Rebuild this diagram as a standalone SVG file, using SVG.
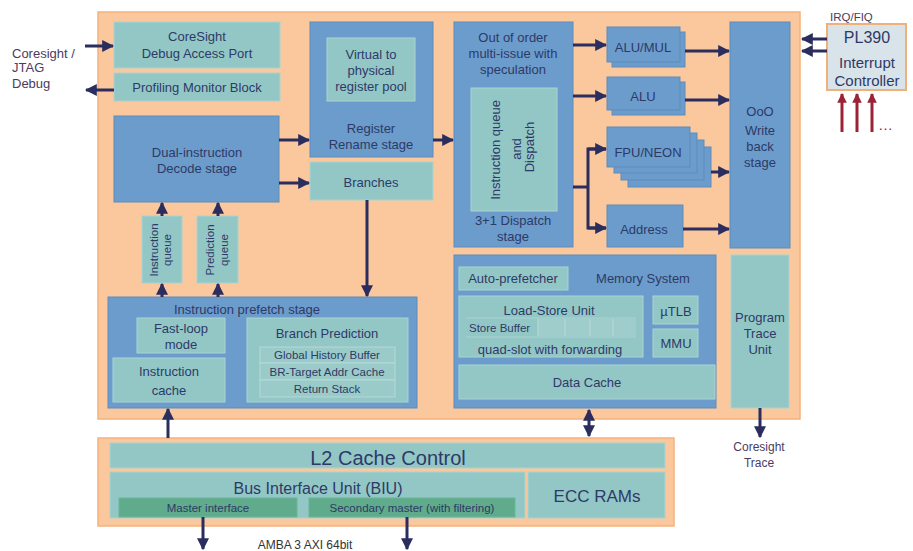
<svg xmlns="http://www.w3.org/2000/svg" width="913" height="551" viewBox="0 0 913 551">
<defs>
<marker id="ah" viewBox="0 0 10 10" refX="9" refY="5" markerWidth="4" markerHeight="4" orient="auto-start-reverse" markerUnits="strokeWidth">
<path d="M0,0 L10,5 L0,10 z" fill="#2B2D5E"/>
</marker>
<marker id="ahr" viewBox="0 0 10 10" refX="9" refY="5" markerWidth="3.2" markerHeight="3.2" orient="auto" markerUnits="strokeWidth">
<path d="M0,0 L10,5 L0,10 z" fill="#9B2335"/>
</marker>
<style>
text{font-family:"Liberation Sans",Arial,sans-serif;fill:#2E3A66;font-size:13px;text-anchor:middle}
.blue{fill:#6B9CCC;stroke:#5C8CBC;stroke-width:1}
.teal{fill:#93C7C6;stroke:#A8D3D1;stroke-width:1}
.green{fill:#5FAB8B;stroke:#6DB696;stroke-width:1}
.orange{fill:#FAC89C;stroke:#F3B27C;stroke-width:1.5}
.ln{stroke:#2B2D5E;stroke-width:3;fill:none}
.arr{stroke:#2B2D5E;stroke-width:3;fill:none;marker-end:url(#ah)}
.lbl{fill:#4B3B63;text-anchor:start}
.sm{font-size:11.5px}
</style>
</defs>

<rect width="913" height="551" fill="#ffffff"/>

<g id="core">
<rect class="orange" x="98" y="12" width="702" height="407"/>
</g>

<g id="coresight-dap">
<rect class="teal" x="114" y="22" width="166" height="46"/>
<text x="197" y="41">CoreSight</text>
<text x="197" y="58">Debug Access Port</text>
</g>
<g id="profiling">
<rect class="teal" x="114" y="73" width="166" height="28"/>
<text x="197" y="92">Profiling Monitor Block</text>
</g>
<g id="decode">
<rect class="blue" x="114" y="116" width="165" height="86"/>
<text x="197" y="157">Dual-instruction</text>
<text x="197" y="173">Decode stage</text>
</g>
<g id="rename">
<rect class="blue" x="310" y="22" width="123" height="135"/>
<rect class="teal" x="327" y="38" width="88" height="63"/>
<text x="371" y="59">Virtual to</text>
<text x="371" y="75">physical</text>
<text x="371" y="91">register pool</text>
<text x="371" y="133">Register</text>
<text x="371" y="149">Rename stage</text>
</g>
<g id="branches">
<rect class="teal" x="310" y="162" width="123" height="38"/>
<text x="371" y="187">Branches</text>
</g>
<g id="ooo">
<rect class="blue" x="454" y="22" width="119" height="225"/>
<text x="513" y="42">Out of order</text>
<text x="513" y="58">multi-issue with</text>
<text x="513" y="74">speculation</text>
<rect class="teal" x="471" y="88" width="86" height="123"/>
<text transform="translate(500,150) rotate(-90)">Instruction queue</text>
<text transform="translate(521,149) rotate(-90)">and</text>
<text transform="translate(534,147) rotate(-90)">Dispatch</text>
<text x="513" y="225">3+1 Dispatch</text>
<text x="513" y="241">stage</text>
</g>
<g id="alumul">
<rect class="blue" x="612" y="32" width="73" height="35"/>
<rect class="blue" x="607" y="27" width="73" height="35"/>
<text x="643" y="52">ALU/MUL</text>
</g>
<g id="alu">
<rect class="blue" x="612" y="82" width="73" height="33"/>
<rect class="blue" x="607" y="77" width="73" height="33"/>
<text x="643" y="101">ALU</text>
</g>
<g id="fpu">
<rect class="blue" x="628" y="147" width="83" height="40"/>
<rect class="blue" x="621" y="140" width="83" height="40"/>
<rect class="blue" x="614" y="133" width="83" height="40"/>
<rect class="blue" x="607" y="127" width="83" height="40"/>
<text x="648" y="157">FPU/NEON</text>
</g>
<g id="address">
<rect class="blue" x="607" y="205" width="76" height="42"/>
<text x="644" y="234">Address</text>
</g>
<g id="writeback">
<rect class="blue" x="730" y="22" width="60" height="226"/>
<text x="760" y="116">OoO</text>
<text x="760" y="135">Write</text>
<text x="760" y="151">back</text>
<text x="760" y="167">stage</text>
</g>
<g id="ptu">
<rect class="teal" x="731" y="255" width="58" height="153"/>
<text x="760" y="322">Program</text>
<text x="760" y="338">Trace</text>
<text x="760" y="354">Unit</text>
</g>
<g id="memory">
<rect class="blue" x="454" y="255" width="262" height="153"/>
<rect class="teal" x="459" y="267" width="109" height="23"/>
<text x="513" y="283">Auto-prefetcher</text>
<text x="643" y="283">Memory System</text>
<rect class="teal" x="459" y="296" width="184" height="61"/>
<text x="549" y="315">Load-Store Unit</text>
<line x1="466" y1="318" x2="636" y2="318" stroke="#A9D3D1" stroke-width="1"/>
<line x1="466" y1="337" x2="636" y2="337" stroke="#A9D3D1" stroke-width="1"/>
<rect x="538" y="319" width="98" height="17" fill="#9FCDCB"/>
<g stroke="#B5DAD8" stroke-width="1">
<line x1="538" y1="319" x2="538" y2="336"/>
<line x1="565" y1="319" x2="565" y2="336"/>
<line x1="590" y1="319" x2="590" y2="336"/>
<line x1="613" y1="319" x2="613" y2="336"/>
</g>
<text class="sm" x="469" y="332" style="text-anchor:start">Store Buffer</text>
<text x="550" y="354">quad-slot with forwarding</text>
<rect class="teal" x="653" y="296" width="45" height="28"/>
<text x="676" y="316">µTLB</text>
<rect class="teal" x="653" y="329" width="45" height="28"/>
<text x="676" y="348">MMU</text>
<rect class="teal" x="459" y="365" width="256" height="34"/>
<text x="587" y="387">Data Cache</text>
</g>
<g id="prefetch">
<rect class="blue" x="108" y="297" width="309" height="111"/>
<text x="247" y="314">Instruction prefetch stage</text>
<rect class="teal" x="137" y="318" width="88" height="35"/>
<text x="181" y="333">Fast-loop</text>
<text x="181" y="349">mode</text>
<rect class="teal" x="113" y="358" width="112" height="44"/>
<text x="169" y="376">Instruction</text>
<text x="169" y="395">cache</text>
<rect class="teal" x="247" y="318" width="161" height="84"/>
<text x="327" y="338">Branch Prediction</text>
<g fill="#9BCBC9" stroke="#B4D9D7" stroke-width="1">
<rect x="260" y="347" width="135" height="16"/>
<rect x="260" y="363" width="135" height="17"/>
<rect x="260" y="380" width="135" height="17"/>
</g>
<text class="sm" x="327" y="359">Global History Buffer</text>
<text class="sm" x="327" y="376">BR-Target Addr Cache</text>
<text class="sm" x="327" y="393">Return Stack</text>
</g>
<g id="iqueue">
<rect class="teal" x="142" y="216" width="40" height="67"/>
<text class="sm" transform="translate(158,250) rotate(-90)">Instruction</text>
<text class="sm" transform="translate(171,250) rotate(-90)">queue</text>
</g>
<g id="pqueue">
<rect class="teal" x="197" y="216" width="41" height="67"/>
<text class="sm" transform="translate(214,250) rotate(-90)">Prediction</text>
<text class="sm" transform="translate(228,250) rotate(-90)">queue</text>
</g>
<g id="pl390">
<rect x="827" y="24" width="79" height="66" fill="#D8E3EA" stroke="#F0B07A" stroke-width="2"/>
<text x="867" y="43" style="font-size:16px">PL390</text>
<text x="867" y="68" style="font-size:15px">Interrupt</text>
<text x="867" y="86" style="font-size:15px">Controller</text>
</g>
<g id="l2">
<rect class="orange" x="98" y="438" width="576" height="88"/>
<rect class="teal" x="110" y="443" width="555" height="25"/>
<text x="388" y="465" style="font-size:20px">L2 Cache Control</text>
<rect class="teal" x="110" y="472" width="415" height="46"/>
<text x="318" y="494" style="font-size:16px">Bus Interface Unit (BIU)</text>
<rect class="green" x="119" y="498" width="178" height="19"/>
<text class="sm" x="208" y="512">Master interface</text>
<rect class="green" x="309" y="498" width="206" height="19"/>
<text class="sm" x="412" y="512">Secondary master (with filtering)</text>
<rect class="teal" x="528" y="472" width="137" height="46"/>
<text x="597" y="502" style="font-size:17px">ECC RAMs</text>
</g>

<g id="labels">
<text class="lbl" x="12" y="58">Coresight /</text>
<text class="lbl" x="12" y="72">JTAG</text>
<text class="lbl" x="12" y="88">Debug</text>
<text class="lbl sm" x="830" y="21">IRQ/FIQ</text>
<text class="lbl" x="878" y="130" style="font-size:15px;fill:#9B2335">…</text>
<text x="759" y="451" style="fill:#4B3B63;font-size:12px">Coresight</text>
<text x="759" y="467" style="fill:#4B3B63;font-size:12px">Trace</text>
<text x="305" y="549" style="font-size:12px;fill:#333">AMBA 3 AXI 64bit</text>
</g>

<g id="connectors">
<line class="arr" x1="85" y1="46" x2="113" y2="46"/>
<line class="arr" x1="114" y1="90" x2="86" y2="90"/>
<line class="arr" x1="279" y1="140" x2="309" y2="140"/>
<line class="arr" x1="279" y1="183" x2="309" y2="183"/>
<line class="arr" x1="433" y1="140" x2="453" y2="140"/>
<line class="arr" x1="573" y1="45" x2="606" y2="45"/>
<line class="arr" x1="573" y1="96" x2="606" y2="96"/>
<line class="ln" x1="573" y1="187" x2="588" y2="187"/>
<polyline class="ln" points="606,149 588,149 588,228 606,228"/>
<line class="arr" x1="588" y1="149" x2="606" y2="149"/>
<line class="arr" x1="588" y1="228" x2="606" y2="228"/>
<line class="arr" x1="685" y1="51" x2="729" y2="51"/>
<line class="arr" x1="685" y1="100" x2="729" y2="100"/>
<line class="arr" x1="711" y1="172" x2="729" y2="172"/>
<line class="arr" x1="683" y1="229" x2="729" y2="229"/>
<line class="arr" x1="827" y1="39" x2="802" y2="39"/>
<line class="arr" x1="827" y1="51" x2="802" y2="51"/>
<line class="arr" x1="162" y1="297" x2="162" y2="284"/>
<line class="arr" x1="218" y1="297" x2="218" y2="284"/>
<line class="arr" x1="162" y1="216" x2="162" y2="203"/>
<line class="arr" x1="218" y1="216" x2="218" y2="203"/>
<line class="arr" x1="367" y1="200" x2="367" y2="296"/>
<line class="arr" x1="168" y1="438" x2="168" y2="409"/>
<line class="arr" x1="589" y1="410" x2="589" y2="436" style="marker-start:url(#ah)"/>
<line class="arr" x1="760" y1="408" x2="760" y2="437"/>
<line class="arr" x1="203" y1="517" x2="203" y2="549"/>
<line class="arr" x1="407" y1="517" x2="407" y2="549"/>
<g stroke="#9B2335" stroke-width="3" marker-end="url(#ahr)">
<line x1="842" y1="132" x2="842" y2="94"/>
<line x1="857" y1="132" x2="857" y2="94"/>
<line x1="872" y1="132" x2="872" y2="94"/>
</g>
</g>
</svg>
